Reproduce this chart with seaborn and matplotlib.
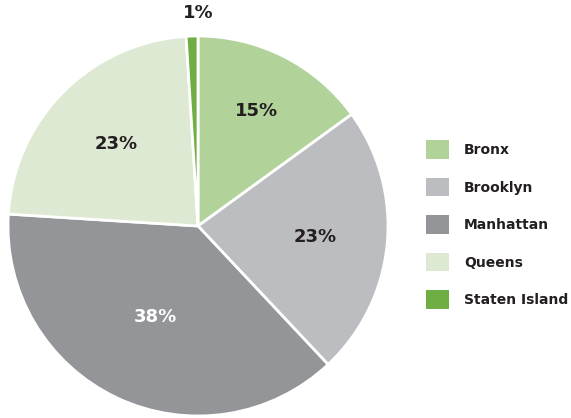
import matplotlib
matplotlib.use("Agg")
import matplotlib.pyplot as plt
from matplotlib.patches import Patch
import seaborn as sns

boroughs = ["Bronx", "Brooklyn", "Manhattan", "Queens", "Staten Island"]
shares = [15, 23, 38, 23, 1]
colors = ["#b1d39a", "#bcbdc1", "#939598", "#dde9d2", "#6fae45"]
label_colors = ["#231f20", "#231f20", "#ffffff", "#231f20", "#231f20"]
label_dist = [0.68, 0.62, 0.53, 0.61, 1.12]

sns.set_theme(style="white")
plt.rcParams["font.family"] = ["DejaVu Sans"]

fig = plt.figure(figsize=(5.71, 4.18), dpi=100)
ax = fig.add_axes([8 / 571, 2 / 418, 380 / 571, 380 / 418])

wedges, texts, autotexts = ax.pie(
    shares,
    colors=colors,
    startangle=90,
    counterclock=False,
    radius=1,
    autopct="%d%%",
    pctdistance=1.0,
    wedgeprops=dict(edgecolor="white", linewidth=2),
    textprops=dict(fontsize=13, fontweight="bold"),
)
for t, c, d in zip(autotexts, label_colors, label_dist):
    x, y = t.get_position()
    t.set_position((x * d, y * d))
    t.set_color(c)
    t.set_clip_on(False)
# the small slice label sits centred above the pie
x, y = autotexts[-1].get_position()
autotexts[-1].set_position((0, y))

ax.set_xlim(-1, 1)
ax.set_ylim(-1, 1)
ax.set_aspect("equal")
ax.axis("off")

handles = [Patch(facecolor=c, edgecolor="none") for c in colors]
fig.legend(
    handles, boroughs,
    loc="upper left",
    bbox_to_anchor=(426 / 571, 1 - 140.5 / 418),
    frameon=False,
    borderpad=0,
    borderaxespad=0,
    handlelength=1.65,
    handleheight=1.65,
    handletextpad=1.08,
    labelspacing=1.38,
    prop=dict(size=10, weight="bold"),
    labelcolor="#231f20",
)

fig.savefig("out.png", dpi=100)
